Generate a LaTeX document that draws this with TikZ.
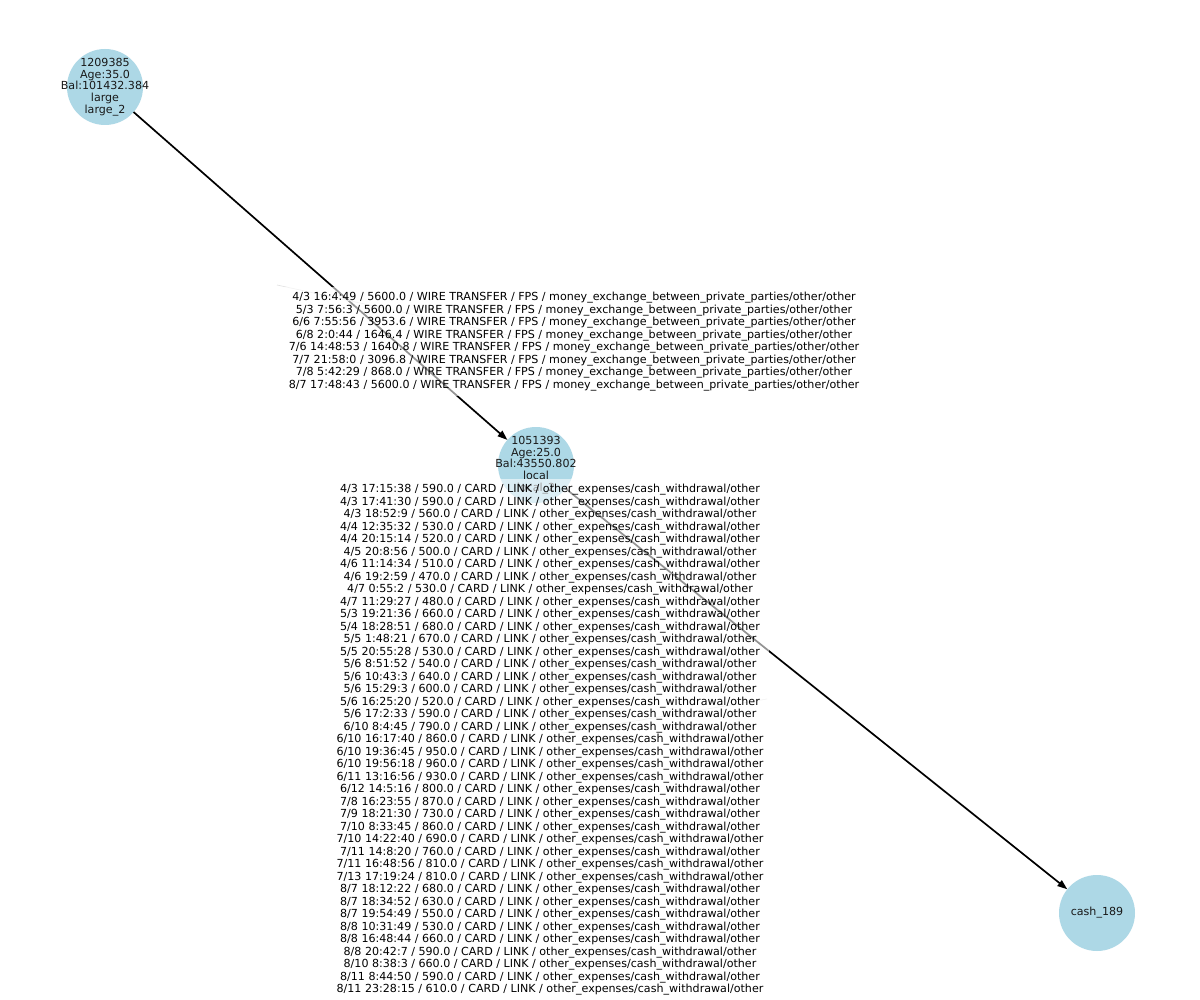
\documentclass[tikz,border=0pt]{standalone}
\usepackage{fontspec}
\setmainfont{DejaVu Sans}
\usetikzlibrary{arrows.meta}
\definecolor{nodeblue}{RGB}{173,216,230}
\newcommand{\wtrest}{ / WIRE TRANSFER / FPS / money\_exchange\_between\_private\_parties/other/other}
\newcommand{\cdrest}{ / CARD / LINK / other\_expenses/cash\_withdrawal/other}
\tikzset{
  acct/.style={circle, fill=nodeblue, minimum size=76pt, inner sep=0pt, outer sep=0pt},
  accttext/.style={align=center, inner sep=0pt, font=\fontsize{11.1}{11.8}\selectfont, text=black!90},
  flow/.style={draw=black, line width=1.7pt, -{Triangle[length=10pt,width=7pt]}},
  elabel/.style={fill=white, fill opacity=0.58, text opacity=1, align=center,
    inner xsep=6pt, inner ysep=5pt, font=\fontsize{11.1}{12.5}\selectfont},
  faint/.style={draw=black!12, line width=0.6pt}
}
\begin{document}
\begin{tikzpicture}[x=1pt, y=-1pt]
\useasboundingbox (0,0) rectangle (1200,1000);
\fill[white] (0,0) rectangle (1200,1000);
\node[acct, label={[accttext]center:1209385\\Age:35.0\\Bal:101432.384\\large\\large\_2}] (n1) at (105,87) {};
\node[acct, label={[accttext]center:1051393\\Age:25.0\\Bal:43550.802\\local\\local\_2}] (n2) at (536,465) {};
\node[acct, label={[accttext]center:cash\_189}] (n3) at (1097,913) {};
\draw[flow] (n1) -- (n2);
\draw[flow] (n2) -- (n3);
\coordinate (fa1) at (277,285);
\coordinate (fa2) at (540,342);
\coordinate (fb1) at (767,699);
\coordinate (fb2) at (563,733);
\draw[faint] (fa1) -- (fa2);
\draw[faint] (fb1) -- (fb2);
\node[elabel] (l1) at (574,341.5) {4/3 16:4:49 / 5600.0\wtrest\\
5/3 7:56:3 / 5600.0\wtrest\\
6/6 7:55:56 / 3953.6\wtrest\\
6/8 2:0:44 / 1646.4\wtrest\\
7/6 14:48:53 / 1640.8\wtrest\\
7/7 21:58:0 / 3096.8\wtrest\\
7/8 5:42:29 / 868.0\wtrest\\
8/7 17:48:43 / 5600.0\wtrest};
\node[elabel] (l2) at (550,740) {4/3 17:15:38 / 590.0\cdrest\\
4/3 17:41:30 / 590.0\cdrest\\
4/3 18:52:9 / 560.0\cdrest\\
4/4 12:35:32 / 530.0\cdrest\\
4/4 20:15:14 / 520.0\cdrest\\
4/5 20:8:56 / 500.0\cdrest\\
4/6 11:14:34 / 510.0\cdrest\\
4/6 19:2:59 / 470.0\cdrest\\
4/7 0:55:2 / 530.0\cdrest\\
4/7 11:29:27 / 480.0\cdrest\\
5/3 19:21:36 / 660.0\cdrest\\
5/4 18:28:51 / 680.0\cdrest\\
5/5 1:48:21 / 670.0\cdrest\\
5/5 20:55:28 / 530.0\cdrest\\
5/6 8:51:52 / 540.0\cdrest\\
5/6 10:43:3 / 640.0\cdrest\\
5/6 15:29:3 / 600.0\cdrest\\
5/6 16:25:20 / 520.0\cdrest\\
5/6 17:2:33 / 590.0\cdrest\\
6/10 8:4:45 / 790.0\cdrest\\
6/10 16:17:40 / 860.0\cdrest\\
6/10 19:36:45 / 950.0\cdrest\\
6/10 19:56:18 / 960.0\cdrest\\
6/11 13:16:56 / 930.0\cdrest\\
6/12 14:5:16 / 800.0\cdrest\\
7/8 16:23:55 / 870.0\cdrest\\
7/9 18:21:30 / 730.0\cdrest\\
7/10 8:33:45 / 860.0\cdrest\\
7/10 14:22:40 / 690.0\cdrest\\
7/11 14:8:20 / 760.0\cdrest\\
7/11 16:48:56 / 810.0\cdrest\\
7/13 17:19:24 / 810.0\cdrest\\
8/7 18:12:22 / 680.0\cdrest\\
8/7 18:34:52 / 630.0\cdrest\\
8/7 19:54:49 / 550.0\cdrest\\
8/8 10:31:49 / 530.0\cdrest\\
8/8 16:48:44 / 660.0\cdrest\\
8/8 20:42:7 / 590.0\cdrest\\
8/10 8:38:3 / 660.0\cdrest\\
8/11 8:44:50 / 590.0\cdrest\\
8/11 23:28:15 / 610.0\cdrest};
\end{tikzpicture}
\end{document}
